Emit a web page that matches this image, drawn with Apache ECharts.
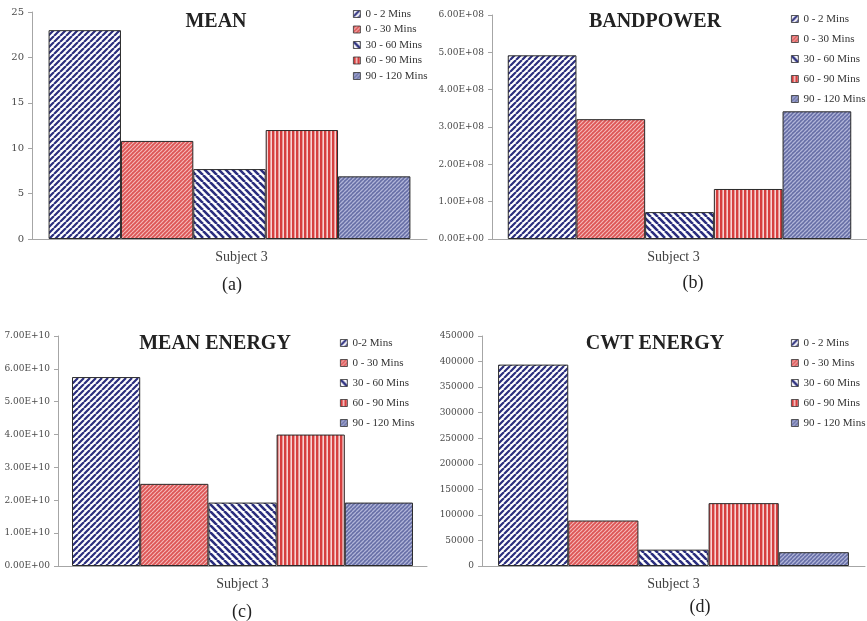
<!DOCTYPE html>
<html>
<head>
<meta charset="utf-8">
<script src="https://cdn.jsdelivr.net/npm/echarts@6/dist/echarts.min.js"></script>
<style>
html,body{margin:0;padding:0;background:#fff;}
#chart{width:867px;height:621px;}
</style>
</head>
<body>
<div id="chart"></div>
<script>
// ---- data ----
const categories = ['Subject 3'];
const seriesNames = ['0 - 2 Mins', '0 - 30 Mins', '30 - 60 Mins', '60 - 90 Mins', '90 - 120 Mins'];
const seriesNamesC = ['0-2 Mins', '0 - 30 Mins', '30 - 60 Mins', '60 - 90 Mins', '90 - 120 Mins'];
const meanValues = [23, 10.8, 7.7, 12, 6.9];
const bandpowerValues = [4.92e8, 3.21e8, 0.72e8, 1.34e8, 3.42e8];
const meanEnergyValues = [5.75e10, 2.5e10, 1.93e10, 4.0e10, 1.93e10];
const cwtEnergyValues = [394000, 89000, 32000, 123000, 27000];
const panelTitles = ['MEAN', 'BANDPOWER', 'MEAN ENERGY', 'CWT ENERGY'];
const panelLetters = ['(a)', '(b)', '(c)', '(d)'];
const yMaxes = [25, 6e8, 7e10, 450000];
const yIntervals = [5, 1e8, 1e10, 50000];

// ---- patterns ----
function makePattern(kind) {
  const c = document.createElement('canvas');
  let s, bg, fg, lw;
  if (kind === 0) { s = 6; bg = '#ffffff'; fg = '#2b2e7e'; lw = 2.2; }
  if (kind === 1) { s = 4; bg = '#dd5656'; fg = '#f4b8b8'; lw = 1.2; }
  if (kind === 2) { s = 7; bg = '#ffffff'; fg = '#2b2e7e'; lw = 2.6; }
  if (kind === 3) { s = 4; bg = '#f7d3d3'; fg = '#d63f3f'; lw = 2.4; }
  if (kind === 4) { s = 4; bg = '#666ea6'; fg = '#b0b4d8'; lw = 1.3; }
  c.width = s; c.height = s;
  const ctx = c.getContext('2d');
  ctx.fillStyle = bg; ctx.fillRect(0, 0, s, s);
  ctx.strokeStyle = fg; ctx.fillStyle = fg; ctx.lineWidth = lw;
  if (kind === 3) {
    ctx.fillRect(0, 0, lw, s);
  } else if (kind === 2) {
    ctx.beginPath();
    for (const k of [-s, 0, s]) { ctx.moveTo(k, 0); ctx.lineTo(k + s, s); }
    ctx.stroke();
  } else {
    ctx.beginPath();
    for (const k of [-s, 0, s]) { ctx.moveTo(k, s); ctx.lineTo(k + s, 0); }
    ctx.stroke();
  }
  return { image: c, repeat: 'repeat' };
}
const patterns = [0, 1, 2, 3, 4].map(makePattern);

function sci(v) {
  if (v === 0) return '0.00E+00';
  const e = Math.floor(Math.log10(v) + 1e-9);
  const m = v / Math.pow(10, e);
  return m.toFixed(2) + 'E+' + String(e).padStart(2, '0');
}

const panelValues = [meanValues, bandpowerValues, meanEnergyValues, cwtEnergyValues];
const panelNames = [seriesNames, seriesNames, seriesNamesC, seriesNames];

// ---- layout ----
const grids = [
  { left: 32, top: 12, width: 395, height: 227 },
  { left: 492, top: 15, width: 382, height: 224 },
  { left: 58, top: 336, width: 369, height: 230 },
  { left: 482, top: 336, width: 383, height: 230 }
];
const catGaps = ['8.4%', '8.4%', '7.6%', '8.4%'];
const subjPad = [[0, 0, 0, 24], [0, 12, 0, 0], [0, 0, 0, 0], [0, 0, 0, 0]];
const titlePos = [[216, 22], [655, 22], [215, 344], [655, 344]];
const letterPos = [[232, 285], [693, 283], [242, 612], [700, 607]];
const legendPos = [
  { left: 353, top: 8, itemGap: 3.5 },
  { left: 791, top: 13, itemGap: 8 },
  { left: 340, top: 337, itemGap: 8 },
  { left: 791, top: 337, itemGap: 8 }
];

const xAxes = [], yAxes = [], series = [], legends = [], graphics = [];
for (let p = 0; p < 4; p++) {
  xAxes.push({
    type: 'category', gridIndex: p, data: categories,
    axisLine: { lineStyle: { color: '#a6a6a6', width: 1 } },
    axisTick: { show: false },
    axisLabel: { margin: 11, fontFamily: 'Liberation Serif', fontSize: 14, color: '#404040', padding: subjPad[p] }
  });
  yAxes.push({
    type: 'value', gridIndex: p, min: 0, max: yMaxes[p], interval: yIntervals[p],
    axisLine: { show: true, lineStyle: { color: '#a6a6a6', width: 1 } },
    axisTick: { show: true, length: 4, lineStyle: { color: '#a6a6a6' } },
    splitLine: { show: false },
    axisLabel: {
      margin: 8, fontFamily: 'DejaVu Serif', fontSize: (p === 0 ? 10 : 9), color: '#4a4a4a',
      formatter: (p === 1 || p === 2) ? sci : (v) => String(v)
    }
  });
  panelNames[p].forEach((nm, i) => {
    series.push({
      type: 'bar', name: nm, xAxisIndex: p, yAxisIndex: p,
      data: [panelValues[p][i]],
      barGap: '0%', barCategoryGap: catGaps[p],
      itemStyle: { color: patterns[i], borderColor: '#2a2a2a', borderWidth: 1 },
      emphasis: { disabled: true },
      animation: false
    });
  });
  legends.push({
    left: legendPos[p].left, top: legendPos[p].top, orient: 'vertical',
    itemGap: legendPos[p].itemGap, itemWidth: 7, itemHeight: 7, padding: 0,
    icon: 'rect', data: panelNames[p], selectedMode: false,
    itemStyle: { borderColor: '#333', borderWidth: 0.8 },
    textStyle: { fontFamily: 'Liberation Serif', fontSize: 11, color: '#333', lineHeight: 12 }
  });
  graphics.push({
    type: 'text', x: titlePos[p][0], y: titlePos[p][1],
    style: { text: panelTitles[p], font: 'bold 20px "Liberation Serif"', fill: '#222', align: 'center', verticalAlign: 'middle' }
  });
  graphics.push({
    type: 'text', x: letterPos[p][0], y: letterPos[p][1],
    style: { text: panelLetters[p], font: '18px "Liberation Serif"', fill: '#222', align: 'center', verticalAlign: 'middle' }
  });
}

const chart = echarts.init(document.getElementById('chart'), null, { renderer: 'canvas', devicePixelRatio: 1 });
chart.setOption({
  backgroundColor: '#ffffff',
  animation: false,
  grid: grids,
  xAxis: xAxes,
  yAxis: yAxes,
  legend: legends,
  series: series,
  graphic: graphics
});
</script>
</body>
</html>
